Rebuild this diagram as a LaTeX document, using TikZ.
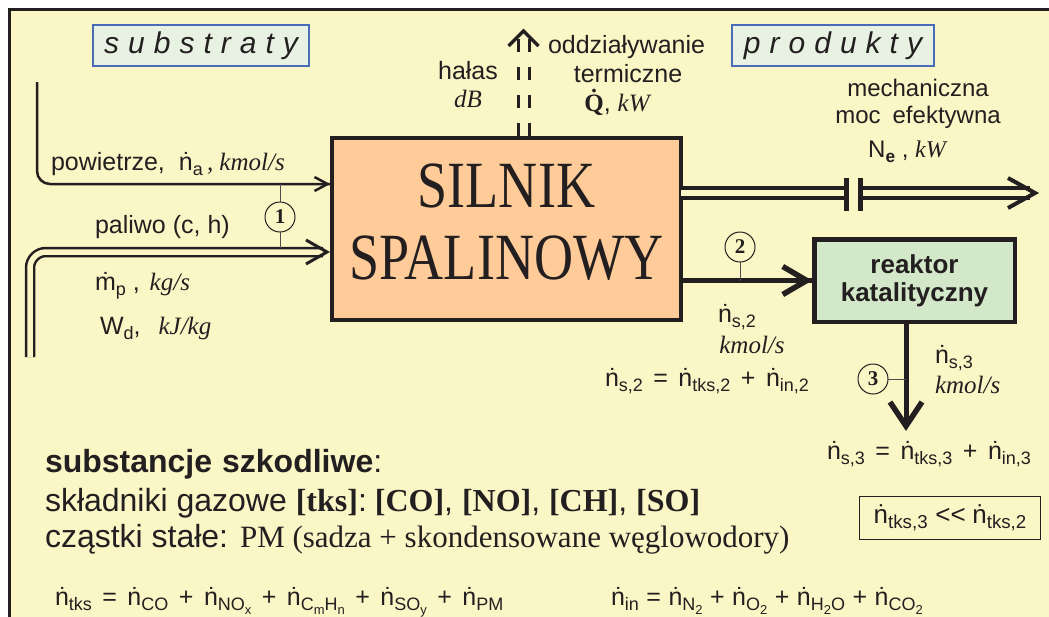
\documentclass[tikz,border=0pt]{standalone}
\usepackage{fontspec}
\setmainfont{Liberation Serif}
\setsansfont{Liberation Sans}
\usetikzlibrary{calc}
\definecolor{bgy}{HTML}{FAF6C6}
\definecolor{peach}{HTML}{FFCC99}
\definecolor{rgreen}{HTML}{D3E8C8}
\definecolor{lblfill}{HTML}{E8F2E2}
\definecolor{lblblue}{HTML}{4A6CB8}
\definecolor{ink}{HTML}{231F20}
\newcommand\lo[1]{\raisebox{-0.4ex}{\scalebox{0.72}{#1}}}
\newcommand\nd{ṅ}
\newcommand\un[1]{{\rmfamily\itshape #1}}
\newcommand\fs[1]{\fontsize{#1}{#1}\selectfont}
\newcommand\op[1]{\hspace{0.42em}#1\hspace{0.42em}}
\newcommand\opn[1]{\hspace{0.3em}#1\hspace{0.3em}}
\tikzset{
  every node/.style={inner sep=0pt, outer sep=0pt, text=ink},
  lbl/.style={draw=lblblue, line width=1.5pt, fill=lblfill},
  flow/.style={draw=ink, line width=2.5pt},
  circ/.style={circle, draw=ink, line width=1pt, fill=bgy, minimum size=30pt, font=\fs{21}\rmfamily\bfseries},
  thinl/.style={draw=ink!80, line width=1pt},
  pics/chev/.style n args={3}{code={\draw[ink, line width=#3, line cap=butt, line join=miter, miter limit=10] (-#1,-#2) -- (0,0) -- (-#1,#2);}}
}
\begin{document}
\begin{tikzpicture}[x=1pt, y=-1pt, font=\sffamily]
\useasboundingbox (0,0) rectangle (1049,616);
\fill[white] (0,0) rectangle (1049,616);
\draw[ink, line width=3pt, fill=bgy] (9.5,9.5) rectangle (1080,650);

% label boxes
\node[lbl, minimum width=216pt, minimum height=41pt] (subs) at (201,45.5)
  {\fs{30}\itshape\addfontfeature{LetterSpace=30}substraty};
\node[lbl, minimum width=202pt, minimum height=41pt] (prod) at (833,45.5)
  {\fs{30}\itshape\addfontfeature{LetterSpace=30}produkty};

% engine
\node[draw=ink, line width=4.5pt, fill=peach, minimum width=349pt, minimum height=182pt] (eng) at (506.5,229)
  {\raisebox{-3.5pt}{\scalebox{0.82}[1]{\fontsize{66}{72}\selectfont\rmfamily\begin{tabular}{@{}c@{}}SILNIK\\SPALINOWY\end{tabular}}}};

% reactor
\node[draw=ink, line width=4.5pt, fill=rgreen, minimum width=200.5pt, minimum height=82.5pt, align=center,
  font=\fontsize{26}{28}\selectfont\sffamily\bfseries] (reac) at (914.5,280.5) {reaktor\\katalityczny};

% air inlet
\draw[flow, rounded corners=13pt] (37,82) |- (eng.west |- 0,184);
\path (eng.west |- 0,184) ++(-4.5,0) pic {chev={13}{7}{2.5}};
% fuel inlet (double line)
\draw[ink, line width=2.5pt, double=bgy, double distance=5.5pt, rounded corners=16pt, shorten >=9pt] (30,357) |- (eng.west |- 0,252);
\path (eng.west |- 0,252) ++(-5,0) pic {chev={21}{12}{3}};
% marker 1
\node[circ] (c1) at (280,217) {1};
\draw[thinl] (c1.north) -- (c1.north |- 0,184);
\draw[thinl] (c1.south) -- (c1.south |- 0,248);

% heat / noise (dashed double)
\draw[ink, line width=3pt, double=bgy, double distance=8pt, dash pattern=on 13pt off 15pt]
  ($(eng.north -| 523.5,0)+(0,-2)$) -- (523.5,39);
\path (523.5,31) pic[rotate=90] {chev={15}{15}{3.5}};

% mechanical output
\coordinate (cl1) at (844,193);
\coordinate (cl2) at (863,193);
\coordinate (mtip) at (1040,193);
\draw[ink, line width=4pt, double=bgy, double distance=6pt] (eng.east |- cl1) -- (cl1);
\draw[ink, line width=5pt] (846.5,178) -- (846.5,211);
\draw[ink, line width=5pt] (860,178) -- (860,211);
\draw[ink, line width=4pt, double=bgy, double distance=6pt] (cl2) -- ($(mtip)+(-10,0)$);
\path (mtip) ++(-5,0) pic {chev={27}{15}{4}};

% exhaust to reactor
\draw[ink, line width=5pt] (eng.east |- reac.west) -- (reac.west);
\path (reac.west) ++(-7.5,0) pic {chev={24}{14}{5.5}};
\node[circ] (c2) at (740,247) {2};
\draw[thinl] (c2.south) -- (c2.south |- reac.west);

% reactor outlet
\coordinate (otip) at (906,432);
\draw[ink, line width=5pt] (reac.south -| otip) -- ($(otip)+(0,-6)$);
\path (otip) ++(0,-6) pic[rotate=-90] {chev={24}{16}{5.5}};
\node[circ] (c3) at (873,379) {3};
\draw[thinl] (c3.east) -- (c3.east -| otip);

% labels, left
\node[anchor=base west] (tpow) at (51,170) {\fs{25}powietrze,\hspace{14pt}\nd\lo{a}\,\un{, kmol/s}};
\node[anchor=base west] (tpal) at (95,233) {\fs{25}paliwo (c, h)};
\node[anchor=base west] (tmp) at (95,290) {\fs{25}ṁ\lo{p} ,\hspace{10pt}\un{kg/s}};
\node[anchor=base west] (twd) at (100,334) {\fs{25}W\lo{d},\hspace{18pt}\un{kJ/kg}};

% labels, top
\node[anchor=base] (thal) at (468,79) {\fs{25}hałas};
\node[anchor=base] (tdb) at (468,107) {\fs{25}\un{dB}};
\node[anchor=base west] (todd) at (548,53) {\fs{25}oddziaływanie};
\node[anchor=base] (tter) at (628,82) {\fs{25}termiczne};
\node[anchor=base] (tq) at (617,111) {\fs{25}{\rmfamily\bfseries Q̇}, \un{kW}};

\node[anchor=base] (tmech) at (918,96) {\fs{24}mechaniczna};
\node[anchor=base] (tmoc) at (918,123) {\fs{24}moc\hspace{12pt}efektywna};
\node[anchor=base] (tne) at (907,157) {\fs{24}N\lo{\bfseries e} , \un{kW}};

% labels, exhaust
\node[anchor=base west] (tns2) at (718,322) {\fs{25}\nd\lo{s,2}};
\node[anchor=base] (tkm2) at (752,353) {\fs{25}\un{kmol/s}};
\node[anchor=base west] (teq2) at (605,386) {\fs{25}\nd\lo{s,2}\op{=}\nd\lo{tks,2}\op{+}\nd\lo{in,2}};
\node[anchor=base west] (tns3) at (935,363) {\fs{25}\nd\lo{s,3}};
\node[anchor=base west] (tkm3) at (935,393) {\fs{25}\un{kmol/s}};
\node[anchor=base west] (teq3) at (827,459) {\fs{25}\nd\lo{s,3}\op{=}\nd\lo{tks,3}\op{+}\nd\lo{in,3}};
\node[draw=ink, line width=1.5pt, minimum width=181pt, minimum height=43pt] (tcmp) at (950,518)
  {\fs{26}\nd\lo{tks,3}\hspace{0.3em}{<}{<}\hspace{0.25em}\nd\lo{tks,2}};

% bottom texts
\node[anchor=base west] (tsub) at (45,472) {\fs{32}\textbf{substancje\hspace{10pt}szkodliwe}:};
\node[anchor=base west] (tskl) at (45,511) {\fs{32}składniki gazowe {\rmfamily\bfseries[tks]}:\hspace{8pt}{\rmfamily\bfseries [CO]}, {\rmfamily\bfseries [NO]}, {\rmfamily\bfseries [CH]}, {\rmfamily\bfseries [SO]}};
\node[anchor=base west] (tcza) at (45,547) {\fs{32}cząstki stałe: {\fs{31}\rmfamily PM (sadza + skondensowane węglowodory)}};
\node[anchor=base west] (ttks) at (55,605) {\fs{25}\nd\lo{tks}\op{=}\nd\lo{CO}\op{+}\nd\lo{NO\lo{x}}\op{+}\nd\lo{C\lo{m}H\lo{n}}\op{+}\nd\lo{SO\lo{y}}\op{+}\nd\lo{PM}};
\node[anchor=base west] (tin) at (611,605) {\fs{25}\nd\lo{in}\opn{=}\nd\lo{N\lo{2}}\opn{+}\nd\lo{O\lo{2}}\opn{+}\nd\lo{H\lo{2}O}\opn{+}\nd\lo{CO\lo{2}}};
\end{tikzpicture}
\end{document}
